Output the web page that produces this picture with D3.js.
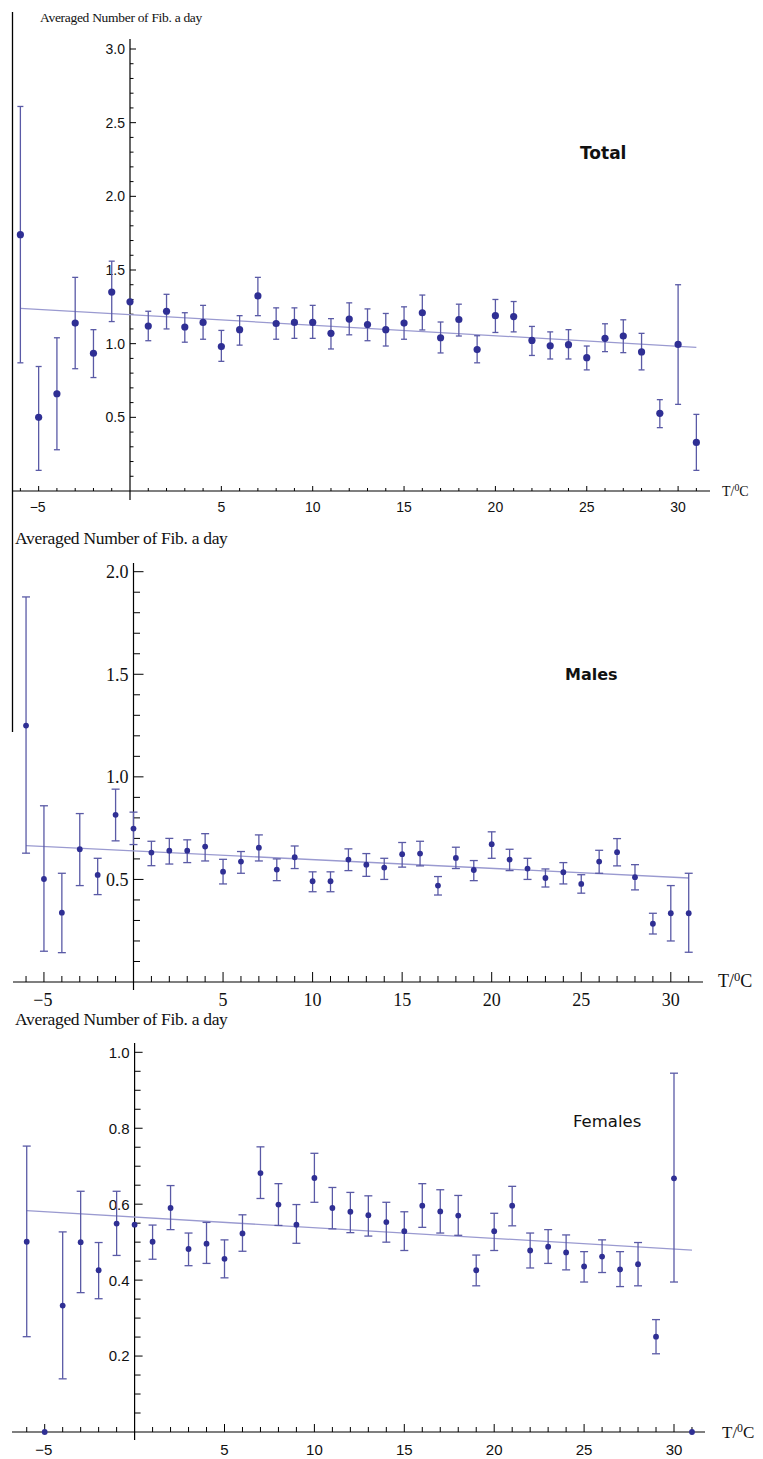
<!DOCTYPE html>
<html><head><meta charset="utf-8">
<script src="https://cdn.jsdelivr.net/npm/d3@7"></script>
<style>body{margin:0;background:#fff}svg{display:block}</style>
</head><body>
<svg id="c" width="763" height="1459"></svg>
<script>
// ---- data ----
const temps = [-6,-5,-4,-3,-2,-1,0,1,2,3,4,5,6,7,8,9,10,11,12,13,14,15,16,17,18,19,20,21,22,23,24,25,26,27,28,29,30,31];

const totalMean = [1.74,0.50,0.66,1.14,0.935,1.35,1.284,1.12,1.22,1.113,1.144,0.98,1.095,1.324,1.137,1.144,1.144,1.07,1.167,1.13,1.095,1.14,1.21,1.04,1.164,0.96,1.19,1.184,1.022,0.986,0.993,0.905,1.036,1.052,0.944,0.527,0.995,0.33];
const totalHi = [2.61,0.845,1.04,1.45,1.095,1.56,null,1.22,1.335,1.21,1.26,1.09,1.19,1.45,1.243,1.243,1.26,1.17,1.277,1.236,1.205,1.25,1.33,1.147,1.268,1.054,1.30,1.286,1.117,1.08,1.095,0.984,1.135,1.162,1.07,0.62,1.40,0.52];
const totalLo = [0.87,0.14,0.28,0.83,0.77,1.15,null,1.02,1.10,1.01,1.03,0.88,0.99,1.19,1.03,1.036,1.036,0.964,1.06,1.02,0.984,1.03,1.093,0.937,1.052,0.87,1.076,1.08,0.92,0.896,0.896,0.822,0.946,0.939,0.822,0.43,0.588,0.14];
const totalFit = [1.24,0.975];

const malesMean = [1.25,0.502,0.338,0.647,0.522,0.815,0.748,0.631,0.64,0.64,0.66,0.538,0.587,0.655,0.548,0.608,0.491,0.491,0.597,0.572,0.558,0.623,0.626,0.47,0.605,0.546,0.672,0.597,0.553,0.507,0.535,0.478,0.587,0.633,0.511,0.284,0.335,0.335];
const malesHi = [1.877,0.859,0.53,0.821,0.603,0.94,0.828,0.686,0.70,0.693,0.723,0.598,0.636,0.717,0.60,0.663,0.537,0.537,0.649,0.626,0.603,0.68,0.686,0.514,0.657,0.592,0.732,0.647,0.603,0.551,0.582,0.523,0.642,0.699,0.572,0.335,0.47,0.53];
const malesLo = [0.628,0.15,0.143,0.47,0.426,0.688,0.67,0.567,0.575,0.582,0.59,0.478,0.53,0.59,0.494,0.553,0.44,0.44,0.543,0.515,0.50,0.56,0.566,0.424,0.553,0.494,0.603,0.543,0.50,0.463,0.478,0.433,0.53,0.566,0.449,0.234,0.20,0.145];
const malesFit = [0.665,0.507];

const femalesMean = [0.501,0,0.333,0.50,0.426,0.549,0.546,0.501,0.59,0.482,0.496,0.456,0.523,0.682,0.599,0.546,0.669,0.59,0.58,0.571,0.553,0.529,0.596,0.581,0.57,0.426,0.529,0.596,0.478,0.488,0.473,0.436,0.462,0.428,0.442,0.251,0.668,0];
const femalesHi = [0.753,null,0.527,0.634,0.499,0.634,null,0.545,0.649,0.524,0.552,0.506,0.572,0.751,0.654,0.599,0.734,0.644,0.631,0.622,0.605,0.58,0.654,0.638,0.623,0.466,0.576,0.647,0.524,0.533,0.519,0.475,0.506,0.475,0.499,0.296,0.945,null];
const femalesLo = [0.251,null,0.14,0.367,0.351,0.465,null,0.455,0.533,0.438,0.444,0.406,0.476,0.615,0.544,0.497,0.605,0.535,0.525,0.516,0.50,0.478,0.539,0.524,0.518,0.385,0.478,0.543,0.432,0.444,0.427,0.395,0.42,0.383,0.385,0.206,0.395,null];
const femalesFit = [0.583,0.479];

const fitRange = [-6,31];
const xTickLabels = [-5,5,10,15,20,25,30];
const yTitle = "Averaged Number of Fib. a day";
const xTitle = "T/";

// ---- layout ----
const svg = d3.select("#c");
const ptColor = "#2f2f94", barColor = "#5a5aa6", fitColor = "#9a9ad0";
const SANS = "Liberation Sans, Arial, sans-serif", SERIF = "Liberation Serif, Times New Roman, serif";

const panels = [
  {name:"Total", bold:true, mean:totalMean, hi:totalHi, lo:totalLo, fit:totalFit,
   x0:130, x30:678.1, y0:491, yTop:49, yMax:3.0, major:0.5, minor:0.1,
   axL:13, axR:710, vTop:39, vBot:500, r:3.6, cap:3,
   tickFont:14, tickFamily:SANS, xLabY:512, titleX:40, titleY:22, titleSize:13.5,
   xTitleX:722, xTitleY:496, xTitleSize:14, nameX:580, nameY:159, nameSize:17,
   majLen:6, minLen:3.5, xMajLen:5, xMinLen:3},
  {name:"Males", bold:true, mean:malesMean, hi:malesHi, lo:malesLo, fit:malesFit,
   x0:133.5, x30:670.8, y0:982, yTop:571.7, yMax:2.0, major:0.5, minor:0.1,
   axL:13, axR:703, vTop:563, vBot:990, r:2.9, cap:4,
   tickFont:18, tickFamily:SERIF, xLabY:1006, titleX:15, titleY:544, titleSize:17.5,
   xTitleX:718, xTitleY:987, xTitleSize:18, nameX:565, nameY:680, nameSize:16,
   majLen:10, minLen:6.5, xMajLen:10, xMinLen:6},
  {name:"Females", bold:false, mean:femalesMean, hi:femalesHi, lo:femalesLo, fit:femalesFit,
   x0:134.6, x30:674, y0:1432, yTop:1052.3, yMax:1.0, major:0.2, minor:0.05,
   axL:12, axR:705, vTop:1043, vBot:1440, r:2.9, cap:4,
   tickFont:15, tickFamily:SANS, xLabY:1455, titleX:15, titleY:1025, titleSize:17.5,
   xTitleX:722, xTitleY:1438, xTitleSize:17, nameX:573, nameY:1127, nameSize:16.5,
   majLen:8, minLen:6, xMajLen:8, xMinLen:5}
];

// left border line
svg.append("line").attr("x1",12.5).attr("x2",12.5).attr("y1",12).attr("y2",732)
  .attr("stroke","#000").attr("stroke-width",1.3);

panels.forEach(p => {
  const x = d3.scaleLinear().domain([0,30]).range([p.x0,p.x30]);
  const y = d3.scaleLinear().domain([0,p.yMax]).range([p.y0,p.yTop]);
  const g = svg.append("g");

  g.append("line").attr("x1",p.axL).attr("x2",p.axR).attr("y1",p.y0).attr("y2",p.y0)
    .attr("stroke","#000").attr("stroke-width",1.2);
  g.append("line").attr("x1",p.x0).attr("x2",p.x0).attr("y1",p.vTop).attr("y2",p.vBot)
    .attr("stroke","#000").attr("stroke-width",1.2);

  temps.filter(t => t !== 0).forEach(t => {
    const major = t % 5 === 0;
    g.append("line").attr("x1",x(t)).attr("x2",x(t))
      .attr("y1",p.y0).attr("y2",p.y0-(major?p.xMajLen:p.xMinLen))
      .attr("stroke","#000").attr("stroke-width",1);
  });
  xTickLabels.forEach(t => {
    g.append("text").attr("x",x(t) + (t<0?-1:0)).attr("y",p.xLabY)
      .attr("text-anchor","middle").attr("font-family",p.tickFamily)
      .attr("font-size",p.tickFont).attr("fill","#111")
      .text(t<0 ? "\u2212"+Math.abs(t) : t);
  });

  const nMinor = Math.round(p.yMax/p.minor);
  const ratio = Math.round(p.major/p.minor);
  d3.range(1,nMinor+1).forEach(i => {
    const v = i*p.minor;
    const major = i % ratio === 0;
    g.append("line").attr("x1",p.x0).attr("x2",p.x0+(major?p.majLen:p.minLen))
      .attr("y1",y(v)).attr("y2",y(v)).attr("stroke","#000").attr("stroke-width",1);
    if (major) {
      g.append("text").attr("x",p.x0-5).attr("y",y(v)).attr("dy","0.36em")
        .attr("text-anchor","end").attr("font-family",p.tickFamily)
        .attr("font-size",p.tickFont).attr("fill","#111")
        .text(d3.format(".1f")(v));
    }
  });

  g.append("line").attr("x1",x(fitRange[0])).attr("x2",x(fitRange[1]))
    .attr("y1",y(p.fit[0])).attr("y2",y(p.fit[1]))
    .attr("stroke",fitColor).attr("stroke-width",1.3);

  temps.forEach((t,i) => {
    if (p.hi[i] == null || p.lo[i] == null) return;
    const xx = x(t);
    g.append("line").attr("x1",xx).attr("x2",xx).attr("y1",y(p.hi[i])).attr("y2",y(p.lo[i]))
      .attr("stroke",barColor).attr("stroke-width",1.3);
    [p.hi[i],p.lo[i]].forEach(v => {
      g.append("line").attr("x1",xx-p.cap).attr("x2",xx+p.cap).attr("y1",y(v)).attr("y2",y(v))
        .attr("stroke",barColor).attr("stroke-width",1.3);
    });
  });
  temps.forEach((t,i) => {
    g.append("circle").attr("cx",x(t)).attr("cy",y(p.mean[i])).attr("r",p.r).attr("fill",ptColor);
  });

  g.append("text").attr("x",p.titleX).attr("y",p.titleY)
    .attr("font-family",SERIF)
    .attr("font-size",p.titleSize).attr("fill","#111").attr("letter-spacing",-0.3).text(yTitle);
  const xt = g.append("text").attr("x",p.xTitleX).attr("y",p.xTitleY)
    .attr("font-family",SERIF)
    .attr("font-size",p.xTitleSize).attr("fill","#111");
  xt.append("tspan").text(xTitle);
  xt.append("tspan").attr("dy",-p.xTitleSize*0.35).attr("font-size",p.xTitleSize*0.7).text("0");
  xt.append("tspan").attr("dy",p.xTitleSize*0.35).text("C");

  g.append("text").attr("x",p.nameX).attr("y",p.nameY)
    .attr("font-family","DejaVu Sans, Verdana, sans-serif")
    .attr("font-weight",p.bold?"bold":"normal")
    .attr("font-size",p.nameSize).attr("fill","#111").text(p.name);
});
</script>
</body></html>
